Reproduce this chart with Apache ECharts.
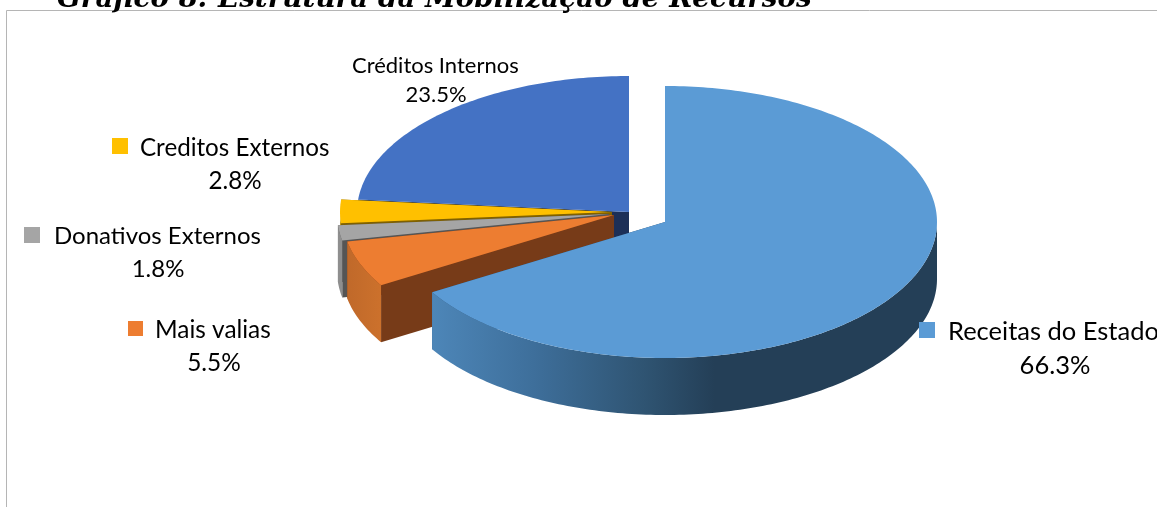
<!DOCTYPE html>
<html><head><meta charset="utf-8">
<style>html,body{margin:0;padding:0;background:#fff;overflow:hidden}#c{width:1157px;height:507px}</style>
<script src="https://cdn.jsdelivr.net/npm/echarts@6/dist/echarts.min.js"></script>
</head><body><div id="c"></div>
<script>
// data
var categories = ['Receitas do Estado','Mais valias','Donativos Externos','Creditos Externos','Créditos Internos'];
var values = [66.3,5.5,1.8,2.8,23.5];
var titleText = 'Gráfico 8: Estrutura da Mobilização de Recursos';
// style
var topColors = ['#5b9bd5','#ed7d31','#a5a5a5','#ffc000','#4472c4'];
var wallColors = ['#2a4a68','#773b18','#555555','#7f6000','#1c2f57'];
var drawOrder = [4,3,2,1,0];
var centers = [[665,222],[614,215],[609,214],[612,212],[629,212]];
var RX=272, RY=136, DEPTH=57;
var bandFill = [
 new echarts.graphic.LinearGradient(0,0,1,0,[{offset:0,color:'#4d86b8'},{offset:.2,color:'#3e6f9b'},{offset:.42,color:'#2f5472'},{offset:.56,color:'#243f57'},{offset:1,color:'#243f57'}]),
 new echarts.graphic.LinearGradient(0,0,1,0,[{offset:0,color:'#c0692a'},{offset:1,color:'#cc712c'}]),
 '#8e8e8e','#bf9000','#2f5597'];
// label layout: key square [x,y,size], name [x,y], percent [x,y], font size
var labelLayout = [
 {key:[919,322,16],name:[948,332],pct:[1055,366],fs:25.5},
 {key:[128,321,15],name:[155,330],pct:[214,363],fs:24.4},
 {key:[24,227,16],name:[54,236],pct:[158,269],fs:24},
 {key:[112,138,16],name:[140,148],pct:[235,181],fs:24.2},
 {key:null,name:[352,66],pct:[436,95],fs:22}
];
var total = values.reduce(function(a,b){return a+b},0);
var startAngles = []; (function(){var s=0;values.forEach(function(v,i){startAngles[i]=s;s+=v/total*360;});})();
var rows = drawOrder.map(function(i){return [i,values[i]];});

function pt(c,deg,dy){var a=deg*Math.PI/180;return [c[0]+RX*Math.sin(a),c[1]-RY*Math.cos(a)+(dy||0)];}
function arcPts(c,from,to,dy){var out=[];for(var d=from;d<to;d+=1){out.push(pt(c,d,dy));}out.push(pt(c,to,dy));return out;}
function renderItem(params,api){
  var i=api.value(0), v=api.value(1);
  var a0=startAngles[i], a1=a0+v/total*360, c=centers[i];
  var arc=arcPts(c,a0,a1,0);
  var base=(drawOrder.indexOf(i)+1)*10;
  function poly(points,fill,z){return {type:'polygon',shape:{points:points},style:{fill:fill},z2:base+z,silent:true};}
  var wallAt=function(ang,z){return poly([c,pt(c,ang),pt(c,ang,DEPTH),[c[0],c[1]+DEPTH]],wallColors[i],z);};
  var children=[wallAt(a1,0),wallAt(a0,1)];
  // outer rim: only the part facing the viewer (90 to 270 degrees clockwise from the top)
  var f0=Math.max(a0,90), f1=Math.min(a1,270);
  if(f1>f0){
    children.push(poly(arcPts(c,f0,f1,0).concat(arcPts(c,f0,f1,DEPTH).reverse()),bandFill[i],2));
  }
  children.push(poly([c].concat(arc),topColors[i],3));
  return {type:'group',children:children};
}
var FONT='Lato, "Noto Sans", sans-serif';
var graphics=[
 {type:'polyline',shape:{points:[[6.5,507],[6.5,10.5],[1157,10.5]]},style:{stroke:'#b5b5b5',lineWidth:1,fill:null},z:1}
];
categories.forEach(function(n,i){
  var L=labelLayout[i];
  if(L.key)graphics.push({type:'rect',shape:{x:L.key[0],y:L.key[1],width:L.key[2],height:L.key[2]},style:{fill:topColors[i]},z:20});
  graphics.push({type:'text',x:L.name[0],y:L.name[1],style:{text:n,font:L.fs+'px '+FONT,fill:'#000',textAlign:'left',textVerticalAlign:'middle'},z:20});
  graphics.push({type:'text',x:L.pct[0],y:L.pct[1],style:{text:values[i].toFixed(1)+'%',font:L.fs+'px '+FONT,fill:'#000',textAlign:'center',textVerticalAlign:'middle'},z:20});
});
graphics.push({type:'text',x:57,y:-14,style:{text:titleText,font:'italic bold 27.8px "DejaVu Serif", serif',fill:'#000',textAlign:'left',textVerticalAlign:'top'},z:20});
var chart=echarts.init(document.getElementById('c'),null,{renderer:'canvas'});
chart.setOption({
  animation:false,backgroundColor:'#fff',
  graphic:graphics,
  series:[{type:'custom',coordinateSystem:'none',renderItem:renderItem,data:rows,silent:true,z:5,animation:false}]
});
</script></body></html>
